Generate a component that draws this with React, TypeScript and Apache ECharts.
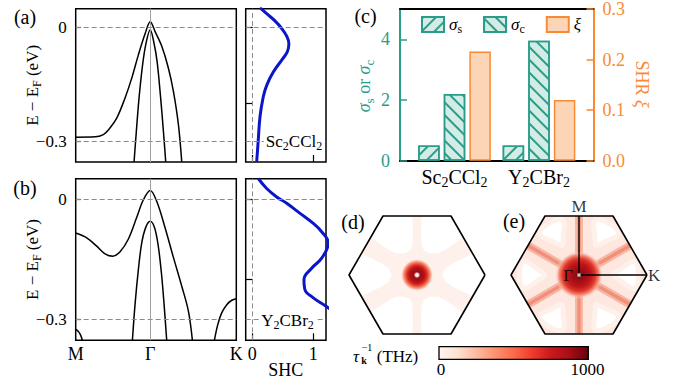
import React, { useEffect, useRef } from 'react';
import * as echarts from 'echarts';

const FONT = 'Liberation Serif';
const TEAL = '#2a9d8a';
const TEAL_FILL = '#d3ece6';
const ORANGE = '#f98a33';
const ORANGE_FILL = '#fcd5b7';
const BLUE = '#0b16c9';
const GRAY = '#8a8a8a';

// ---- band structures (path coordinate: M=0, Γ=1, K=1+2/√3) ----
const K_POS = 2.1547;
const BAND_TICKS = [0, 1, K_POS];
const BAND_TICK_LABELS = ['M', 'Γ', 'K'];
const E_TICKS = [0, -0.3];
const SHC_E_TICKS = [0, -0.2];
const SHC_TICKS = [0, 1];

const A_BAND_OUTER = [[0, -0.289], [0.26, -0.288], [0.371, -0.282], [0.438, -0.27], [0.55, -0.239], [0.662, -0.186], [0.752, -0.134], [0.841, -0.073], [0.931, -0.018], [1, 0.014], [1.065, -0.012], [1.154, -0.05], [1.244, -0.108], [1.311, -0.169], [1.378, -0.256], [1.423, -0.354]];
const A_BAND_INNER = [[0.783, -0.354], [0.81, -0.283], [0.85, -0.186], [0.895, -0.103], [0.94, -0.046], [1, -0.007], [1.05, -0.042], [1.092, -0.09], [1.136, -0.178], [1.177, -0.274], [1.208, -0.354]];

const B_BAND_OUTER = [[0, -0.084], [0.148, -0.096], [0.282, -0.117], [0.394, -0.136], [0.497, -0.142], [0.595, -0.131], [0.707, -0.099], [0.819, -0.045], [0.908, -0.001], [1, 0.022], [1.087, -0.005], [1.199, -0.071], [1.311, -0.145], [1.423, -0.217], [1.512, -0.279], [1.566, -0.352]];
const B_BAND_INNER = [[0.761, -0.352], [0.796, -0.263], [0.841, -0.175], [0.886, -0.109], [0.94, -0.07], [1, -0.055], [1.056, -0.07], [1.105, -0.113], [1.15, -0.184], [1.186, -0.263], [1.221, -0.352]];
const B_BAND_K = [[1.861, -0.352], [1.906, -0.313], [1.96, -0.283], [2.027, -0.263], [2.094, -0.252], [2.1547, -0.248]];
const B_BAND_M = [[0, -0.325], [0.04, -0.331], [0.07, -0.341], [0.095, -0.356]];

// ---- SHC curves: [SHC, E] ----
const SHC_A = [[0.126, 0.051], [0.236, 0.035], [0.372, 0.016], [0.482, -0.004], [0.564, -0.024], [0.6, -0.044], [0.574, -0.065], [0.5, -0.083], [0.344, -0.118], [0.236, -0.153], [0.18, -0.183], [0.126, -0.236], [0.098, -0.296], [0.072, -0.354]];
const SHC_B = [[0.098, 0.052], [0.236, 0.027], [0.4, 0.006], [0.564, -0.01], [0.782, -0.035], [1.0, -0.06], [1.137, -0.081], [1.246, -0.109], [1.137, -0.147], [0.973, -0.172], [0.847, -0.2], [0.864, -0.226], [1.0, -0.246], [1.19, -0.265], [1.33, -0.28]];

// ---- panel (c) ----
const MATERIALS = ['Sc2CCl2', 'Y2CBr2'];
const SIGMA_S = [0.5, 0.5];
const SIGMA_C = [2.2, 3.95];
const XI = [0.216, 0.12];
const LEFT_TICKS = [0, 2, 4];
const RIGHT_TICKS = [0, 0.1, 0.2, 0.3];

// ---- panels (d), (e): Brillouin zone (K at distance 1) ----
const HEX = [[1, 0], [0.5, 0.866], [-0.5, 0.866], [-1, 0], [-0.5, -0.866], [0.5, -0.866], [1, 0]];
const D_SIDE_LOBE = [[1.2, 0], [0.95, 0.45], [0.82, 0.31], [0.66, 0.24], [0.52, 0.17], [0.42, 0.1], [0.37, 0], [0.42, -0.1], [0.52, -0.17], [0.66, -0.24], [0.82, -0.31], [0.95, -0.45]];
const D_CORNER_LOBE = [[0.065, 1.0], [0.065, 0.45], [0.1, 0.36], [0.185, 0.32], [0.297, 0.314], [0.407, 0.365], [0.538, 0.452], [0.678, 0.555], [0.76, 0.65], [0.6, 1.0]];
const D_LOBES = [[1, 1, 0], [-1, 1, 0], [1, 1, 1], [-1, 1, 1], [1, -1, 1], [-1, -1, 1]];
const E_LOBE = [[0.5, 0], [0.62, 0.09], [0.78, 0.2], [0.85, 0.17], [0.875, 0], [0.85, -0.17], [0.78, -0.2], [0.62, -0.09]];
const E_LOBE_ANGLES = [0, 60, 120, 180, 240, 300];
const E_BAND_ANGLES = [30, 90, 150, 210, 270, 330];
const HS_POINTS = [
  { name: 'M', value: [0, 0.866], pos: 'top', dist: 1, size: 0 },
  { name: 'Γ', value: [0, 0], pos: 'left', dist: 4, size: 3 },
  { name: 'K', value: [1, 0], pos: 'right', dist: 1, size: 0 },
];
const PATH = [[0, 0.866], [0, 0], [1, 0]];

const REDS = ['#fff5f0', '#fee0d2', '#fcbba1', '#fc9272', '#fb6a4a', '#ef3b2c', '#cb181d', '#a50f15', '#67000d'];
const CBAR_TICKS = [0, 1000];

function chem(f: string) {
  return f.replace(/([A-Za-z]+)|(\d+)/g, (m: string, a: string, d: string) => (a ? `{n|${a}}` : `{s|${d}}`));
}
function mkRich(size: number, color = '#000') {
  return {
    n: { fontFamily: FONT, fontSize: size, color, fill: color, lineHeight: Math.round(size * 1.25), verticalAlign: 'middle' },
    i: { fontFamily: FONT, fontStyle: 'italic', fontSize: size, color, fill: color, lineHeight: Math.round(size * 1.25), verticalAlign: 'middle' },
    s: { fontFamily: FONT, fontSize: Math.round(size * 0.7), color, fill: color, lineHeight: Math.round(size * 0.7), verticalAlign: 'bottom' },
  };
}
const near = (arr: number[], v: number) => arr.findIndex((t) => Math.abs(t - v) < 1e-6);

function frameGrid(left: number, top: number, width: number, height: number) {
  return { left, top, width, height, show: true, borderColor: '#000', borderWidth: 1.5, backgroundColor: 'transparent' };
}

function bandLine(data: number[][], xi: number, yi: number, extra: any = {}) {
  return { type: 'line', xAxisIndex: xi, yAxisIndex: yi, data, smooth: 0.35, symbol: 'none', showSymbol: false, lineStyle: { color: '#000', width: 1.5 }, z: 3, silent: true, ...extra };
}
const dashed = { type: [5, 3], color: GRAY, width: 1 };
function refLines(items: any[]) {
  return { silent: true, symbol: ['none', 'none'], label: { show: false }, data: items };
}

function bandX(gi: number, labels: boolean) {
  return {
    type: 'value', gridIndex: gi, min: 0, max: K_POS,
    axisLine: { show: false, onZero: false }, axisTick: { show: false }, splitLine: { show: false },
    axisLabel: labels
      ? { customValues: BAND_TICKS, formatter: (v: number) => BAND_TICK_LABELS[near(BAND_TICKS, v)] ?? '', fontFamily: FONT, fontSize: 18, color: '#000', margin: 5 }
      : { show: false },
  };
}
function bandY(gi: number, min: number, max: number) {
  return {
    type: 'value', gridIndex: gi, min, max,
    axisLine: { show: false, onZero: false },
    axisTick: { show: true, inside: true, length: 5, customValues: E_TICKS, lineStyle: { color: '#000', width: 1.2 } },
    axisLabel: { customValues: E_TICKS, formatter: (v: number) => (Math.abs(v) < 1e-9 ? '0' : '−0.3'), fontFamily: FONT, fontSize: 17, color: '#000', margin: 9 },
    splitLine: { show: false },
    name: '{n|E − E}{s|F}{n| (eV)}', nameLocation: 'middle', nameGap: 33, nameMoveOverlap: false,
    nameTextStyle: { fontFamily: FONT, fontSize: 17, color: '#000', rich: mkRich(17) },
  };
}
function shcX(gi: number, labels: boolean) {
  return {
    type: 'value', gridIndex: gi, min: -0.108, max: 1.208,
    axisLine: { show: false, onZero: false },
    axisTick: { show: true, inside: true, length: 7, customValues: SHC_TICKS, lineStyle: { color: '#000', width: 1.2 } },
    axisLabel: labels ? { customValues: SHC_TICKS, fontFamily: FONT, fontSize: 18, color: '#000', margin: 5 } : { show: false },
    splitLine: { show: false },
    ...(labels ? { name: 'SHC', nameLocation: 'middle', nameGap: 21, nameMoveOverlap: false, nameTextStyle: { fontFamily: FONT, fontSize: 18, color: '#000' } } : {}),
  };
}
function shcY(gi: number, min: number, max: number) {
  return {
    type: 'value', gridIndex: gi, min, max,
    axisLine: { show: false, onZero: false },
    axisTick: { show: true, inside: true, length: 7, customValues: SHC_E_TICKS, lineStyle: { color: '#000', width: 1.2 } },
    axisLabel: { show: false }, splitLine: { show: false },
  };
}

function hiddenAxis(gi: number, min: number, max: number) {
  return { type: 'value', gridIndex: gi, min, max, show: false, axisLine: { onZero: false } };
}

function hexFill(xi: number, fill: string) {
  return {
    type: 'custom', xAxisIndex: xi, yAxisIndex: xi, data: [[0, 0]], z: 1, silent: true, clip: true,
    renderItem: (p: any, api: any) => ({ type: 'polygon', shape: { points: HEX.map((q) => api.coord(q)) }, style: { fill } }),
  };
}
function blob(xi: number, r: number, stops: [number, string][]) {
  return {
    type: 'custom', xAxisIndex: xi, yAxisIndex: xi, data: [[0, 0]], z: 4, silent: true,
    renderItem: (p: any, api: any) => {
      const c = api.coord([0, 0]);
      return {
        type: 'circle', shape: { cx: c[0], cy: c[1], r },
        style: { fill: new echarts.graphic.RadialGradient(0.5, 0.5, 0.5, stops.map(([o, col]) => ({ offset: o, color: col }))) },
      };
    },
  };
}
function outline(xi: number, data: number[][], width: number) {
  return { type: 'line', xAxisIndex: xi, yAxisIndex: xi, data, symbol: 'none', showSymbol: false, clip: false, lineStyle: { color: '#000', width }, z: 6, silent: true };
}

const legendText: Record<string, string> = { sigma_s: '{i|σ}{s|s}', sigma_c: '{i|σ}{s|c}', xi: '{i|ξ}' };

function hatch(rot: number) {
  return { symbol: 'rect', symbolSize: 1, color: TEAL, dashArrayX: [1, 0], dashArrayY: [1.6, 6.5], rotation: rot };
}

function txt(text: string, x: number, y: number, size: number, extra: any = {}, rotation = 0, color = '#000') {
  return {
    type: 'text', x, y, z: 100, rotation,
    style: { text, fontFamily: FONT, fontSize: size, fill: color, align: 'center', verticalAlign: 'middle', textAlign: 'center', textVerticalAlign: 'middle', ...extra },
  };
}

const option: any = {
  animation: false,
  textStyle: { fontFamily: FONT },
  grid: [
    frameGrid(75.7, 8.7, 160.6, 153.3),
    frameGrid(245.7, 8.7, 80.3, 153.3),
    frameGrid(75.7, 178.7, 160.6, 161.6),
    frameGrid(245.7, 178.7, 80.3, 161.6),
    { left: 400, top: 7.5, width: 193.5, height: 153.2 },
    { left: 349, top: 216, width: 136, height: 118 },
    { left: 511, top: 216, width: 136, height: 118 },
  ],
  xAxis: [
    bandX(0, false),
    shcX(1, false),
    bandX(2, true),
    shcX(3, true),
    {
      type: 'value', gridIndex: 4, min: -0.645, max: 1.645, position: 'bottom',
      axisLine: { show: true, onZero: false, lineStyle: { color: '#000', width: 2 } }, axisTick: { show: false }, splitLine: { show: false },
      axisLabel: { customValues: [0, 1], formatter: (v: number) => chem(MATERIALS[Math.round(v)]), margin: 4, rich: mkRich(20) },
    },
    {
      type: 'value', gridIndex: 4, min: -0.645, max: 1.645, position: 'top',
      axisLine: { show: true, onZero: false, lineStyle: { color: '#000', width: 2 } }, axisTick: { show: false }, axisLabel: { show: false }, splitLine: { show: false },
    },
    hiddenAxis(5, -1, 1),
    hiddenAxis(6, -1, 1),
  ],
  yAxis: [
    bandY(0, -0.354, 0.048),
    shcY(1, -0.354, 0.048),
    bandY(2, -0.352, 0.0515),
    shcY(3, -0.352, 0.0515),
    {
      type: 'value', gridIndex: 4, position: 'left', min: 0, max: 5,
      axisLine: { show: true, onZero: false, lineStyle: { color: TEAL, width: 2 } },
      axisTick: { show: true, inside: true, length: 7, customValues: LEFT_TICKS, lineStyle: { color: TEAL, width: 1.5 } },
      axisLabel: { customValues: LEFT_TICKS, color: TEAL, fontFamily: FONT, fontSize: 18, margin: 10 },
      splitLine: { show: false },
    },
    {
      type: 'value', gridIndex: 4, position: 'right', min: 0, max: 0.3,
      axisLine: { show: true, onZero: false, lineStyle: { color: ORANGE, width: 2 } },
      axisTick: { show: true, inside: true, length: 7, customValues: RIGHT_TICKS, lineStyle: { color: ORANGE, width: 1.5 } },
      axisLabel: { customValues: RIGHT_TICKS, formatter: (v: number) => v.toFixed(1), color: ORANGE, fontFamily: FONT, fontSize: 18, margin: 9 },
      splitLine: { show: false },
    },
    hiddenAxis(5, -0.866, 0.866),
    hiddenAxis(6, -0.866, 0.866),
  ],
  legend: {
    data: ['sigma_s', 'sigma_c', 'xi'], left: 416, top: 11, icon: 'rect', itemWidth: 22, itemHeight: 15, itemGap: 21,
    selectedMode: false, formatter: (n: string) => legendText[n],
    textStyle: { fontFamily: FONT, fontSize: 17, color: '#000', rich: { ...mkRich(17), n: { fontFamily: FONT, fontSize: 17, lineHeight: 18 } } },
  },
  series: [
    // (a)
    bandLine(A_BAND_OUTER, 0, 0, {
      markLine: refLines([
        { yAxis: 0, lineStyle: dashed },
        { yAxis: -0.3, lineStyle: dashed },
        { xAxis: 1, lineStyle: { type: 'solid', color: '#a0a0a0', width: 1 } },
      ]),
    }),
    bandLine(A_BAND_INNER, 0, 0),
    bandLine(SHC_A, 1, 1, {
      smooth: 0.4, lineStyle: { color: BLUE, width: 3 },
      markLine: refLines([{ yAxis: 0, lineStyle: dashed }, { yAxis: -0.3, lineStyle: dashed }, { xAxis: 0, lineStyle: dashed }]),
    }),
    // (b)
    bandLine(B_BAND_OUTER, 2, 2, {
      markLine: refLines([
        { yAxis: 0, lineStyle: dashed },
        { yAxis: -0.3, lineStyle: dashed },
        { xAxis: 1, lineStyle: { type: 'solid', color: '#a0a0a0', width: 1 } },
      ]),
    }),
    bandLine(B_BAND_INNER, 2, 2),
    bandLine(B_BAND_K, 2, 2),
    bandLine(B_BAND_M, 2, 2),
    bandLine(SHC_B, 3, 3, {
      smooth: 0.4, lineStyle: { color: BLUE, width: 3 },
      markLine: refLines([{ yAxis: 0, lineStyle: dashed }, { yAxis: -0.3, lineStyle: dashed }, { xAxis: 0, lineStyle: dashed }]),
    }),
    // (c)
    {
      name: 'sigma_s', type: 'bar', xAxisIndex: 4, yAxisIndex: 4, data: SIGMA_S.map((v, i) => [i, v]),
      barWidth: 21.5, barGap: '19%',
      itemStyle: { color: TEAL_FILL, borderColor: TEAL, borderWidth: 1.5, decal: hatch(-Math.PI / 4) },
    },
    {
      name: 'sigma_c', type: 'bar', xAxisIndex: 4, yAxisIndex: 4, data: SIGMA_C.map((v, i) => [i, v]),
      barWidth: 21.5, barGap: '19%',
      itemStyle: { color: TEAL_FILL, borderColor: TEAL, borderWidth: 1.5, decal: hatch(Math.PI / 4) },
    },
    {
      name: 'xi', type: 'bar', xAxisIndex: 4, yAxisIndex: 5, data: XI.map((v, i) => [i, v]),
      barWidth: 21.5, barGap: '19%',
      itemStyle: { color: ORANGE_FILL, borderColor: ORANGE, borderWidth: 1.5 },
    },
    // (d)
    hexFill(6, '#fef0ea'),
    {
      type: 'custom', xAxisIndex: 6, yAxisIndex: 6, data: D_LOBES, z: 2, silent: true, clip: true,
      renderItem: (p: any, api: any) => {
        const sx = api.value(0), sy = api.value(1), kind = api.value(2);
        const shape = kind === 0 ? D_SIDE_LOBE : D_CORNER_LOBE;
        return { type: 'polygon', shape: { points: shape.map(([x, y]) => api.coord([x * sx, y * sy])) }, style: { fill: '#fff' } };
      },
    },
    blob(6, 16, [[0, '#ffffff'], [0.1, '#f4dada'], [0.2, '#9a0d13'], [0.45, '#b01218'], [0.6, '#d8281f'], [0.75, '#f2694f'], [0.9, '#fcc0ac'], [1, 'rgba(253,236,230,0)']]),
    outline(6, HEX, 1.6),
    // (e)
    hexFill(7, '#fde7df'),
    {
      type: 'custom', xAxisIndex: 7, yAxisIndex: 7, data: E_BAND_ANGLES.map((a) => [0, 0, a]), z: 3, silent: true, clip: true,
      renderItem: (p: any, api: any) => {
        const a = (api.value(2) * Math.PI) / 180;
        const c = Math.cos(a), s = Math.sin(a);
        const rect = (w: number) => [[0, -w], [0.866, -w], [0.866, w], [0, w]].map(([x, y]) => api.coord([x * c - y * s, x * s + y * c]));
        return {
          type: 'group',
          children: [
            { type: 'polygon', shape: { points: rect(0.058) }, style: { fill: '#f7b5a3' } },
            { type: 'polygon', shape: { points: rect(0.024) }, style: { fill: '#f0907b' } },
          ],
        };
      },
    },
    {
      type: 'custom', xAxisIndex: 7, yAxisIndex: 7, data: E_LOBE_ANGLES.map((a) => [0, 0, a]), z: 2, silent: true, clip: true,
      renderItem: (p: any, api: any) => {
        const a = (api.value(2) * Math.PI) / 180;
        const c = Math.cos(a), s = Math.sin(a);
        return {
          type: 'polygon',
          shape: { points: E_LOBE.map(([x, y]) => api.coord([x * c - y * s, x * s + y * c])), smooth: 0.3 },
          style: { fill: '#ffffff', stroke: '#fef1eb', lineWidth: 5, lineJoin: 'round' },
        };
      },
    },
    blob(7, 24, [[0, '#7f0a10'], [0.3, '#a50f15'], [0.5, '#bf161b'], [0.68, '#de372a'], [0.84, '#f5907a'], [1, 'rgba(253,230,221,0)']]),
    outline(7, HEX, 1.6),
    outline(7, PATH, 1.4),
    {
      type: 'scatter', xAxisIndex: 7, yAxisIndex: 7, z: 7, silent: true, symbol: 'rect',
      itemStyle: { color: '#fff', borderColor: '#888', borderWidth: 0.6 },
      data: HS_POINTS.map((h) => ({
        name: h.name, value: h.value, symbolSize: h.size,
        label: { show: true, position: h.pos, distance: h.dist, formatter: '{b}', fontFamily: FONT, fontSize: 17, color: '#000' },
      })),
    },
  ],
  graphic: [
    txt('(a)', 25, 17, 20),
    txt('(b)', 25, 188, 20),
    txt('(c)', 365.5, 16, 20),
    txt('(d)', 353, 222, 20),
    txt('(e)', 514, 221, 20),
    txt('{i|σ}{s|s}{n| or }{i|σ}{s|c}', 364, 86, 18, { rich: mkRich(18, TEAL) }, Math.PI / 2, TEAL),
    txt('{n|SHR }{i|ξ}', 641.5, 84, 18, { rich: mkRich(18, ORANGE) }, -Math.PI / 2, ORANGE),
    txt(chem(MATERIALS[0]), 294, 141.5, 17, { rich: mkRich(17), backgroundColor: '#fff', padding: [0, 2] }),
    txt(chem(MATERIALS[1]), 287.5, 320, 17, { rich: mkRich(17), backgroundColor: '#fff', padding: [0, 2] }),
    {
      type: 'rect', z: 100, shape: { x: 439, y: 346.7, width: 149.3, height: 12.6 },
      style: {
        fill: new echarts.graphic.LinearGradient(0, 0, 1, 0, REDS.map((c, i) => ({ offset: i / (REDS.length - 1), color: c }))),
        stroke: '#000', lineWidth: 1.3,
      },
    },
    txt(String(CBAR_TICKS[0]), 441, 369, 17),
    txt(String(CBAR_TICKS[1]), 587.5, 369, 17),
    txt('τ', 356, 356, 17, { fontStyle: 'italic' }),
    txt('−1', 367, 347.5, 10),
    txt('k', 364, 360, 10, { fontWeight: 'bold' }),
    txt('(THz)', 397.5, 356, 17),
  ],
};

export default function App() {
  const ref = useRef<HTMLDivElement>(null);
  useEffect(() => {
    const chart = echarts.init(ref.current!, null, { renderer: 'svg' });
    chart.setOption(option);
    return () => chart.dispose();
  }, []);
  return <div ref={ref} style={{ width: 673, height: 385, position: 'absolute', left: 0, top: 0 }} />;
}
